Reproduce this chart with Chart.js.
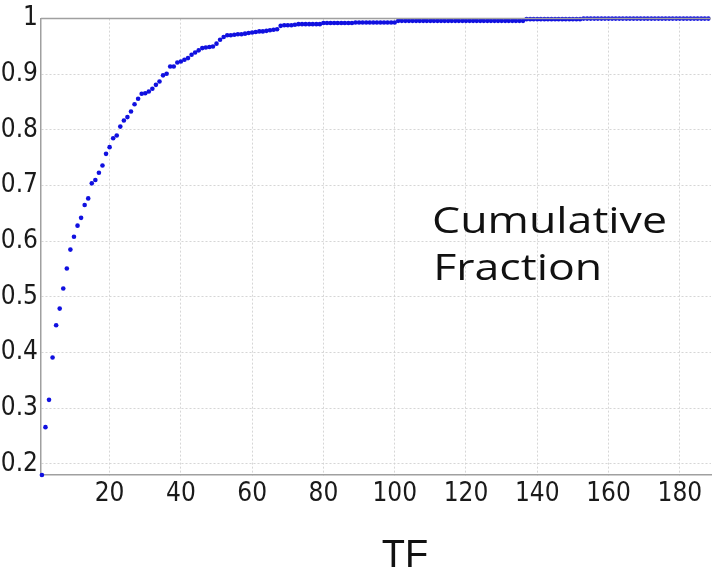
<!DOCTYPE html>
<html>
<head>
<meta charset="utf-8">
<title>Cumulative Fraction</title>
<script src="https://cdn.jsdelivr.net/npm/chart.js@4/dist/chart.umd.min.js"></script>
<style>
  html, body { margin: 0; padding: 0; background: #fff; }
  canvas { display: block; }
</style>
</head>
<body>
<canvas id="cdf" width="715" height="573"></canvas>
<script>
// cumulative fraction for TF = 1, 2, 3, ...
const cumFraction = [
  0.180, 0.266, 0.315, 0.391, 0.449, 0.479, 0.515, 0.551, 0.585, 0.608,
  0.628, 0.642, 0.665, 0.677, 0.704, 0.710, 0.723, 0.736, 0.757, 0.769,
  0.785, 0.790, 0.806, 0.817, 0.823, 0.833, 0.846, 0.856, 0.865, 0.866,
  0.869, 0.874, 0.881, 0.887, 0.898, 0.901, 0.914, 0.914, 0.921, 0.923,
  0.926, 0.929, 0.935, 0.939, 0.943, 0.947, 0.948, 0.949, 0.950, 0.955,
  0.962, 0.967, 0.970, 0.970, 0.971, 0.972, 0.972, 0.973, 0.974, 0.975,
  0.976, 0.977, 0.977, 0.978, 0.979, 0.980, 0.981, 0.987, 0.988, 0.988,
  0.988, 0.989, 0.990, 0.990, 0.990, 0.990, 0.990, 0.990, 0.990, 0.992,
  0.992, 0.992, 0.992, 0.992, 0.992, 0.992, 0.992, 0.992, 0.993, 0.993,
  0.993, 0.993, 0.993, 0.993, 0.993, 0.993, 0.993, 0.993, 0.993, 0.993,
  0.996, 0.996, 0.996, 0.996, 0.996, 0.996, 0.996, 0.996, 0.996, 0.996,
  0.996, 0.996, 0.996, 0.996, 0.996, 0.996, 0.996, 0.996, 0.996, 0.996,
  0.996, 0.996, 0.996, 0.996, 0.996, 0.996, 0.996, 0.996, 0.996, 0.996,
  0.996, 0.996, 0.996, 0.996, 0.996, 0.996, 0.999, 0.999, 0.999, 0.999,
  0.999, 0.999, 0.999, 0.999, 0.999, 0.999, 0.999, 0.999, 0.999, 0.999,
  0.999, 0.999, 1.000, 1.000, 1.000, 1.000, 1.000, 1.000, 1.000, 1.000,
  1.000, 1.000, 1.000, 1.000, 1.000, 1.000, 1.000, 1.000, 1.000, 1.000,
  1.000, 1.000, 1.000, 1.000, 1.000, 1.000, 1.000, 1.000, 1.000, 1.000,
  1.000, 1.000, 1.000, 1.000, 1.000, 1.000, 1.000, 1.000
];

const xTicks = [20, 40, 60, 80, 100, 120, 140, 160, 180];
const yTicks = [0.2, 0.3, 0.4, 0.5, 0.6, 0.7, 0.8, 0.9, 1];
const yTickLabels = ["0.2", "0.3", "0.4", "0.5", "0.6", "0.7", "0.8", "0.9", "1"];
const xTitle = "TF";
const noteLines = ["Cumulative", "Fraction"];

const points = cumFraction.map((v, i) => ({ x: i + 1, y: v }));

const tickFont = { family: "'Liberation Sans Narrow', 'DejaVu Sans Condensed', 'Liberation Sans', sans-serif", size: 26 };
const gridColor = "rgba(210,210,210,0.9)";
const axisColor = "#a0a0a0";

// top frame line, x title and the note inside the plot
const extras = {
  id: "extras",
  afterDraw(chart) {
    const { ctx, chartArea: a } = chart;
    ctx.save();
    ctx.strokeStyle = axisColor;
    ctx.lineWidth = 1.5;
    ctx.beginPath();
    ctx.moveTo(a.left, a.top);
    ctx.lineTo(a.right, a.top);
    ctx.stroke();

    ctx.fillStyle = "#111";
    ctx.font = "38px 'Liberation Sans', Arial, sans-serif";
    ctx.textAlign = "center";
    ctx.textBaseline = "alphabetic";
    ctx.fillText(xTitle, 405, 567);

    ctx.font = "37px 'Open Sans', sans-serif";
    ctx.textAlign = "left";
    const w = ctx.measureText(noteLines[0]).width;
    const sx = 235 / w;
    ctx.translate(432, 0);
    ctx.scale(sx, 1);
    ctx.fillText(noteLines[0], 0, 233);
    ctx.fillText(noteLines[1], 1, 280);
    ctx.restore();
  }
};

new Chart(document.getElementById("cdf"), {
  type: "scatter",
  data: {
    datasets: [{
      data: points,
      pointRadius: 2.3,
      pointBackgroundColor: "#1010e0",
      pointBorderWidth: 0,
      showLine: false,
      clip: false
    }]
  },
  options: {
    responsive: false,
    animation: false,
    layout: { padding: { top: 17, right: 0, left: 0, bottom: 0 } },
    plugins: { legend: { display: false }, tooltip: { enabled: false } },
    scales: {
      x: {
        type: "linear",
        min: 0.75,
        max: 188.75,
        afterBuildTicks: s => { s.ticks = xTicks.map(v => ({ value: v })); },
        afterFit: s => { s.height = 98; },
        ticks: { color: "#1a1a1a", font: tickFont, padding: 4, maxRotation: 0 },
        grid: { color: gridColor, lineWidth: 1, tickLength: 0 },
        border: { color: axisColor, width: 1.5, dash: [2, 2] }
      },
      y: {
        min: 0.18,
        max: 1,
        afterBuildTicks: s => { s.ticks = yTicks.map(v => ({ value: v })); },
        afterFit: s => { s.width = 41; },
        ticks: {
          color: "#1a1a1a",
          font: tickFont,
          padding: 3,
          callback: v => yTickLabels[yTicks.indexOf(Math.round(v * 10) / 10)]
        },
        grid: { color: gridColor, lineWidth: 1, tickLength: 0 },
        border: { color: axisColor, width: 1.5, dash: [2, 2] }
      }
    }
  },
  plugins: [extras]
});
</script>
</body>
</html>
